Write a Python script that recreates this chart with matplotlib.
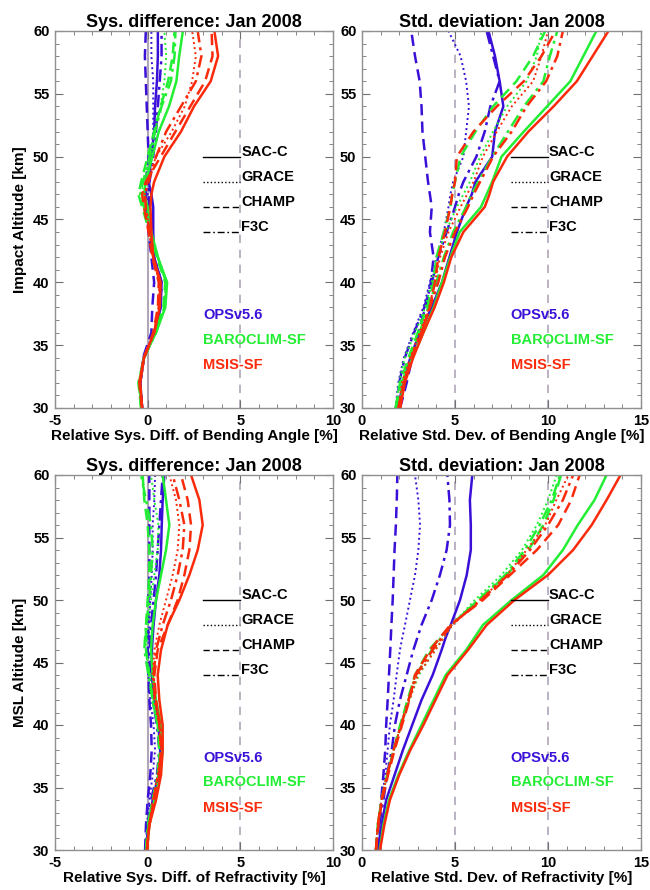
import matplotlib.pyplot as plt
import matplotlib.ticker as mticker

plt.rcParams['font.family'] = ['Liberation Sans', 'DejaVu Sans']
plt.rcParams['font.weight'] = 'bold'
plt.rcParams['axes.unicode_minus'] = False

ALT = [30, 32, 34, 36, 38, 40, 42, 44, 46, 47, 48, 50, 52, 54, 56, 58, 60]

MISSIONS = ['SAC-C', 'GRACE', 'CHAMP', 'F3C']
PRODUCTS = ['OPSv5.6', 'BAROCLIM-SF', 'MSIS-SF']

# rows: SAC-C, GRACE, CHAMP, F3C
# --- bending angle, systematic difference [%]
ba_sys_ops = [
    [-0.3, -0.4, -0.2, 0.4, 0.7, 0.75, 0.35, 0.3, 0.3, 0.2, 0.05, 0.2, 0.35, 0.4, 0.5, 0.55, 0.55],
    [-0.3, -0.4, -0.25, 0.35, 0.65, 0.7, 0.3, 0.1, 0.05, 0.0, 0.0, 0.15, 0.3, 0.3, 0.3, 0.2, 0.2],
    [-0.3, -0.4, -0.25, 0.2, 0.25, 0.35, 0.2, 0.05, -0.05, -0.1, -0.1, 0.05, 0.0, -0.05, -0.1, -0.15, -0.1],
    [-0.3, -0.4, -0.2, 0.4, 0.7, 0.75, 0.35, 0.15, 0.1, 0.05, 0.1, 0.3, 0.45, 0.55, 0.65, 0.75, 0.75],
]
ba_sys_bar = [
    [-0.35, -0.45, -0.2, 0.45, 0.95, 1.05, 0.55, 0.2, 0.0, -0.2, -0.1, 0.25, 0.6, 1.15, 1.55, 1.7, 1.9],
    [-0.35, -0.5, -0.2, 0.45, 0.9, 1.0, 0.55, 0.15, -0.15, -0.35, -0.2, 0.15, 0.4, 0.7, 0.9, 1.0, 0.9],
    [-0.35, -0.5, -0.2, 0.4, 0.85, 0.95, 0.5, 0.1, -0.3, -0.5, -0.35, 0.0, 0.35, 0.7, 1.1, 1.35, 1.45],
    [-0.35, -0.45, -0.2, 0.45, 0.9, 1.0, 0.55, 0.15, -0.2, -0.4, -0.25, 0.1, 0.4, 0.75, 1.25, 1.45, 1.5],
]
ba_sys_msis = [
    [-0.3, -0.4, -0.2, 0.35, 0.65, 0.7, 0.3, 0.2, 0.15, 0.2, 0.35, 0.9, 1.8, 2.5, 3.4, 3.8, 3.6],
    [-0.3, -0.45, -0.2, 0.35, 0.6, 0.65, 0.3, 0.1, -0.1, -0.15, 0.0, 0.45, 1.3, 2.0, 2.4, 2.6, 2.4],
    [-0.3, -0.45, -0.2, 0.3, 0.55, 0.6, 0.25, 0.05, -0.2, -0.3, -0.1, 0.7, 1.5, 2.3, 3.1, 3.5, 3.45],
    [-0.3, -0.45, -0.2, 0.35, 0.6, 0.65, 0.3, 0.1, -0.1, -0.15, 0.05, 0.45, 1.0, 1.8, 2.6, 2.9, 2.7],
]

# --- bending angle, standard deviation [%]
ba_std_ops = [
    [1.95, 2.2, 2.6, 3.1, 3.75, 4.3, 4.7, 5.1, 5.6, 5.9, 6.1, 7.0, 7.15, 7.6, 7.4, 7.15, 6.8],
    [1.8, 1.95, 2.25, 2.75, 3.3, 3.65, 4.0, 4.4, 4.65, 4.75, 4.9, 5.45, 5.6, 5.75, 5.6, 5.3, 4.65],
    [2.05, 2.4, 2.7, 3.05, 3.4, 3.7, 3.85, 3.65, 3.75, 3.65, 3.55, 3.4, 3.25, 3.2, 3.1, 2.85, 2.65],
    [1.85, 2.0, 2.3, 2.8, 3.35, 3.75, 4.1, 4.55, 5.0, 5.2, 5.45, 6.15, 6.6, 6.9, 7.4, 7.05, 6.7],
]
ba_std_bar = [
    [2.05, 2.2, 2.7, 3.3, 3.85, 4.3, 4.75, 5.25, 6.4, 6.7, 7.0, 7.5, 8.7, 9.95, 11.2, 11.9, 12.6],
    [1.8, 2.0, 2.3, 2.85, 3.4, 3.75, 4.0, 4.5, 5.1, 5.45, 5.8, 6.35, 7.05, 7.8, 8.85, 9.4, 9.65],
    [1.8, 2.05, 2.5, 3.0, 3.5, 3.85, 4.0, 4.4, 4.75, 4.85, 5.0, 5.3, 6.1, 7.05, 8.3, 9.2, 9.85],
    [1.9, 2.15, 2.6, 3.1, 3.55, 4.0, 4.4, 4.9, 5.6, 5.9, 6.25, 7.0, 7.85, 8.7, 9.75, 10.1, 10.5],
]
ba_std_msis = [
    [2.05, 2.3, 2.75, 3.3, 3.9, 4.4, 4.8, 5.45, 6.6, 6.85, 7.05, 7.8, 8.95, 10.3, 11.55, 12.4, 13.25],
    [1.95, 2.15, 2.6, 3.1, 3.6, 3.92, 4.2, 4.65, 5.3, 5.65, 6.0, 6.5, 7.25, 8.05, 9.2, 9.65, 10.0],
    [2.05, 2.25, 2.7, 3.2, 3.65, 3.92, 4.1, 4.46, 4.75, 4.85, 5.0, 5.1, 6.0, 7.25, 8.7, 9.65, 10.4],
    [1.95, 2.25, 2.65, 3.2, 3.65, 4.1, 4.46, 5.0, 5.7, 6.0, 6.35, 7.05, 8.05, 8.85, 9.9, 10.5, 10.8],
]

# --- refractivity, systematic difference [%]
ref_sys_ops = [
    [-0.09, 0.04, 0.27, 0.58, 0.68, 0.58, 0.36, 0.22, 0.23, 0.27, 0.32, 0.45, 0.63, 0.72, 0.76, 0.81, 0.9],
    [-0.09, -0.04, 0.09, 0.27, 0.4, 0.32, 0.14, 0.04, 0.04, 0.05, 0.09, 0.14, 0.22, 0.27, 0.27, 0.36, 0.4],
    [-0.14, -0.09, 0.0, 0.14, 0.22, 0.18, 0.09, 0.04, 0.0, 0.02, 0.04, 0.04, 0.09, 0.09, 0.09, 0.09, 0.09],
    [-0.09, 0.0, 0.18, 0.5, 0.63, 0.5, 0.27, 0.14, 0.13, 0.14, 0.18, 0.32, 0.45, 0.54, 0.63, 0.72, 0.81],
]
ref_sys_bar = [
    [-0.04, 0.09, 0.36, 0.68, 0.81, 0.72, 0.45, 0.27, 0.18, 0.22, 0.27, 0.45, 0.72, 0.99, 1.17, 0.99, 0.81],
    [-0.09, 0.04, 0.32, 0.63, 0.72, 0.63, 0.32, 0.09, -0.09, -0.04, 0.0, 0.18, 0.36, 0.54, 0.58, 0.36, 0.18],
    [-0.09, 0.04, 0.27, 0.58, 0.68, 0.54, 0.27, 0.09, -0.09, -0.09, -0.09, 0.0, 0.09, 0.09, 0.0, -0.18, -0.27],
    [-0.09, 0.0, 0.27, 0.54, 0.63, 0.54, 0.27, 0.04, -0.18, -0.14, -0.09, 0.09, 0.18, 0.27, 0.18, -0.09, -0.36],
]
ref_sys_msis = [
    [-0.04, 0.09, 0.45, 0.72, 0.81, 0.81, 0.63, 0.54, 0.72, 0.9, 1.08, 1.71, 2.25, 2.7, 2.97, 2.79, 2.34],
    [-0.04, 0.09, 0.27, 0.54, 0.72, 0.63, 0.36, 0.27, 0.36, 0.5, 0.63, 0.99, 1.35, 1.62, 1.71, 1.53, 1.17],
    [-0.04, 0.09, 0.36, 0.63, 0.72, 0.63, 0.45, 0.36, 0.54, 0.81, 1.08, 1.62, 1.98, 2.25, 2.34, 2.16, 1.8],
    [-0.04, 0.09, 0.32, 0.58, 0.76, 0.68, 0.4, 0.32, 0.45, 0.63, 0.81, 1.26, 1.62, 1.89, 1.98, 1.71, 1.35],
]

# --- refractivity, standard deviation [%]
ref_std_ops = [
    [0.85, 1.05, 1.3, 1.75, 2.2, 2.7, 3.2, 3.8, 4.28, 4.5, 4.77, 5.27, 5.63, 5.85, 5.85, 5.8, 5.93],
    [0.75, 0.88, 1.05, 1.25, 1.38, 1.5, 1.7, 1.86, 2.04, 2.17, 2.31, 2.58, 2.85, 3.03, 3.12, 3.03, 2.85],
    [0.78, 0.9, 1.03, 1.15, 1.25, 1.3, 1.38, 1.45, 1.52, 1.55, 1.58, 1.65, 1.7, 1.75, 1.82, 1.87, 1.9],
    [0.75, 0.93, 1.15, 1.35, 1.6, 1.77, 2.04, 2.4, 2.76, 2.98, 3.2, 3.75, 4.19, 4.55, 4.73, 4.7, 4.59],
]
ref_std_bar = [
    [0.95, 1.15, 1.45, 1.95, 2.55, 3.2, 3.85, 4.5, 5.6, 6.05, 6.5, 8.05, 9.75, 10.8, 11.6, 12.5, 13.15],
    [0.75, 0.85, 1.05, 1.35, 1.7, 2.1, 2.55, 3.05, 3.92, 4.4, 4.85, 6.07, 7.5, 8.6, 9.4, 10.0, 10.47],
    [0.75, 0.85, 1.05, 1.35, 1.7, 2.05, 2.45, 2.85, 3.6, 4.2, 4.8, 6.25, 7.78, 8.95, 9.75, 10.3, 10.7],
    [0.75, 0.85, 1.05, 1.35, 1.7, 2.1, 2.5, 2.9, 3.75, 4.25, 4.8, 6.25, 7.7, 8.75, 9.55, 10.2, 10.65],
]
ref_std_msis = [
    [0.97, 1.2, 1.5, 2.0, 2.6, 3.3, 3.95, 4.6, 5.7, 6.2, 6.7, 8.2, 10.0, 11.35, 12.35, 13.15, 13.9],
    [0.75, 0.85, 1.05, 1.35, 1.7, 2.1, 2.55, 3.0, 3.95, 4.4, 4.85, 6.35, 7.8, 8.85, 9.85, 10.45, 11.1],
    [0.75, 0.88, 1.08, 1.4, 1.75, 2.15, 2.55, 2.85, 3.66, 4.2, 4.75, 6.5, 7.96, 9.4, 10.55, 11.25, 11.7],
    [0.75, 0.85, 1.05, 1.35, 1.7, 2.1, 2.5, 2.9, 3.8, 4.3, 4.8, 6.4, 7.85, 9.03, 10.0, 10.8, 11.35],
]

COLORS = ['#3a10d8', '#22ee33', '#fa2a0a']
STYLES = ['-', (0, (1, 1.6)), (0, (4.5, 2.5)), (0, (5, 2, 1.2, 2))]
REFGRAY = '#b0a6b8'

panels = [
    dict(data=[ba_sys_ops, ba_sys_bar, ba_sys_msis], xlim=(-5, 10), vlines=[5], zero=True,
         title='Sys. difference: Jan 2008', xlabel='Relative Sys. Diff. of Bending Angle [%]',
         ylabel='Impact Altitude [km]', rect=[55, 31, 278, 377]),
    dict(data=[ba_std_ops, ba_std_bar, ba_std_msis], xlim=(0, 15), vlines=[5, 10], zero=False,
         title='Std. deviation: Jan 2008', xlabel='Relative Std. Dev. of Bending Angle [%]',
         ylabel=None, rect=[362, 31, 279, 377]),
    dict(data=[ref_sys_ops, ref_sys_bar, ref_sys_msis], xlim=(-5, 10), vlines=[5], zero=True,
         title='Sys. difference: Jan 2008', xlabel='Relative Sys. Diff. of Refractivity [%]',
         ylabel='MSL Altitude [km]', rect=[55, 475, 278, 375]),
    dict(data=[ref_std_ops, ref_std_bar, ref_std_msis], xlim=(0, 15), vlines=[5, 10], zero=False,
         title='Std. deviation: Jan 2008', xlabel='Relative Std. Dev. of Refractivity [%]',
         ylabel=None, rect=[362, 475, 279, 375]),
]

W, H = 650, 890
fig = plt.figure(figsize=(W / 100, H / 100), dpi=100)

for p in panels:
    l, t, w, h = p['rect']
    ax = fig.add_axes([l / W, 1 - (t + h) / H, w / W, h / H])
    x0, x1 = p['xlim']

    if p['zero']:
        ax.axvline(0, color=REFGRAY, lw=1.5, zorder=1)
    for v in p['vlines']:
        ax.axvline(v, color=REFGRAY, lw=1.2, ls=(0, (5, 4)), zorder=1)

    for prod, color in zip(p['data'], COLORS):
        for prof, ls in zip(prod, STYLES):
            lw = 1.4 if ls == STYLES[1] else 1.8
            ax.plot(prof, ALT, color=color, ls=ls, lw=lw, zorder=2)

    # mission line-style key
    kx0 = x0 + 8
    for i, (m, ls) in enumerate(zip(MISSIONS, STYLES)):
        ya = 50 - 2 * i
        ax.plot([kx0, kx0 + 2], [ya, ya], color='black', ls=ls, lw=1.0)
        ax.text(kx0 + 2.05, ya + 0.4, m, fontsize=10.5, fontweight='bold', va='center', ha='left')
    # product colour key
    for i, (prod, color) in enumerate(zip(PRODUCTS, COLORS)):
        ax.text(kx0, 37.4 - 2.0 * i, prod, color=color, fontsize=10.5, fontweight='bold',
                va='center', ha='left')

    ax.set_xlim(x0, x1)
    ax.set_ylim(30, 60)
    ax.xaxis.set_major_locator(mticker.MultipleLocator(5))
    ax.xaxis.set_minor_locator(mticker.MultipleLocator(1))
    ax.yaxis.set_major_locator(mticker.MultipleLocator(5))
    ax.yaxis.set_minor_locator(mticker.MultipleLocator(1))
    ax.tick_params(which='both', direction='in', top=True, right=True, labelsize=10.5, pad=4,
                   color='#707070')
    ax.tick_params(which='major', length=6)
    ax.tick_params(which='minor', length=3)
    for lab in ax.get_xticklabels() + ax.get_yticklabels():
        lab.set_fontweight('bold')
    for s in ax.spines.values():
        s.set_color('#909090')
        s.set_linewidth(1.0)

    ax.set_title(p['title'], fontsize=13, fontweight='bold', pad=3)
    ax.set_xlabel(p['xlabel'], fontsize=11, fontweight='bold', labelpad=1)
    if p['ylabel']:
        ax.set_ylabel(p['ylabel'], fontsize=11, fontweight='bold', labelpad=4)

fig.savefig('out.png', dpi=100)
